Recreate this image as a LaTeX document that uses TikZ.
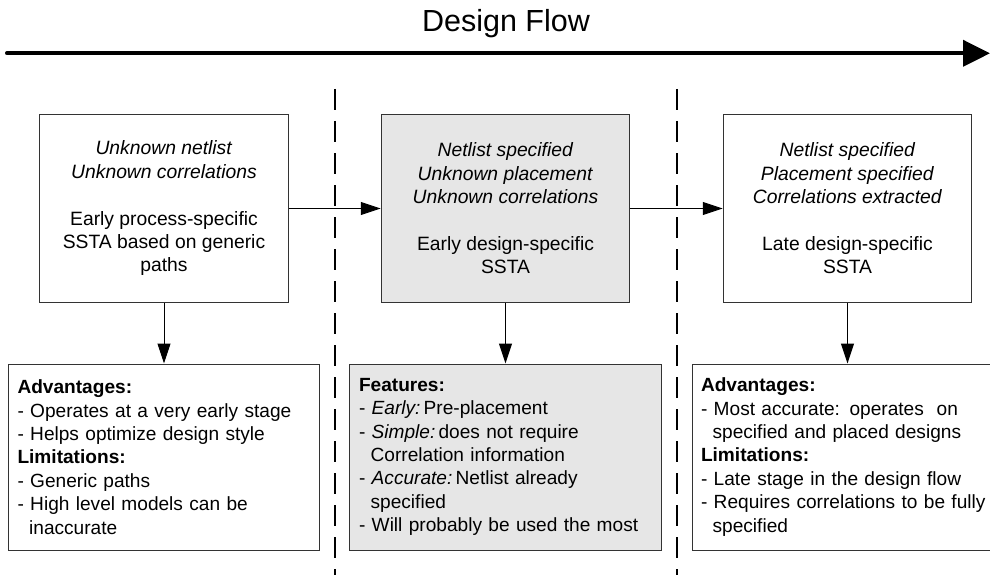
\documentclass[tikz,border=0pt]{standalone}
\usepackage{fontspec}
\setmainfont{Liberation Sans}
\usetikzlibrary{arrows.meta}
\definecolor{StageGray}{RGB}{230,230,230}
\definecolor{LineGray}{RGB}{51,51,51}
\tikzset{
  stage/.style={draw=LineGray,line width=1pt,minimum width=248.5pt,minimum height=187pt,
    align=center,inner sep=0pt,font=\fontsize{19.3}{23.4}\selectfont},
  note/.style={draw=LineGray,line width=1pt,minimum height=186pt,text width=293pt,
    inner xsep=9pt,align=left,font=\fontsize{19.1}{23.4}\selectfont},
  flow/.style={draw=black,line width=1pt,-{Triangle[length=20pt,width=13pt]}},
  sep/.style={draw=black,line width=2.5pt,dash pattern=on 21pt off 11pt},
}
\newcommand{\ind}{\hspace*{0.61em}}
\begin{document}
\begin{tikzpicture}[x=1pt,y=-1pt]
\useasboundingbox (0,0) rectangle (990,575);
% time axis
\coordinate (flowstart) at (7,53.3);
\coordinate (flowend) at (990,53.3);
\draw[line width=4pt,line cap=round,-{Triangle[length=27pt,width=26pt]}] (flowstart) -- (flowend);
\node[anchor=base,font=\fontsize{30.5}{36}\selectfont] (title) at (506,32) {Design Flow};
% phase separators
\coordinate (sepatop) at (335,89);
\coordinate (sepabot) at (335,580);
\coordinate (sepbtop) at (677,89);
\coordinate (sepbbot) at (677,580);
\draw[sep] (sepatop) -- (sepabot);
\draw[sep] (sepbtop) -- (sepbbot);
% stages
\node[stage,fill=white] (proc) at (164,208.5) {\textit{Unknown netlist}\\\textit{Unknown correlations}\\[23.4pt]Early process-specific\\SSTA based on generic\\paths};
\node[stage,fill=StageGray] (early) at (505.5,208.5) {\textit{Netlist specified}\\\textit{Unknown placement}\\\textit{Unknown correlations}\\[23.4pt]Early design-specific\\SSTA};
\node[stage,fill=white] (late) at (847.5,208.5) {\textit{Netlist specified}\\\textit{Placement specified}\\\textit{Correlations extracted}\\[23.4pt]Late design-specific\\SSTA};
% notes
\node[note,fill=white,minimum width=310pt] (procnote) at (164,457) {\textbf{Advantages:}\\- Operates at a very early stage\\- Helps optimize design style\\\textbf{Limitations:}\\- Generic paths\\- High level models can be\\\ind inaccurate};
\node[note,fill=StageGray,minimum width=312pt] (earlynote) at (505.5,457) {\textbf{Features:}\\- \textit{Early:}\,Pre-placement\\- \textit{Simple:}\,does not require\\\ind Correlation information\\- \textit{Accurate:}\,Netlist already\\\ind specified\\- Will probably be used the most};
\node[note,fill=white,minimum width=311pt] (latenote) at (847.5,457) {\textbf{Advantages:}\\- Most accurate: operates\ \ on\\\ind specified and placed designs\\\textbf{Limitations:}\\- Late stage in the design flow\\- Requires correlations to be fully\\\ind specified};
% connectors
\draw[flow] (proc) -- (early);
\draw[flow] (early) -- (late);
\draw[flow] (proc) -- (procnote);
\draw[flow] (early) -- (earlynote);
\draw[flow] (late) -- (latenote);
\end{tikzpicture}
\end{document}
